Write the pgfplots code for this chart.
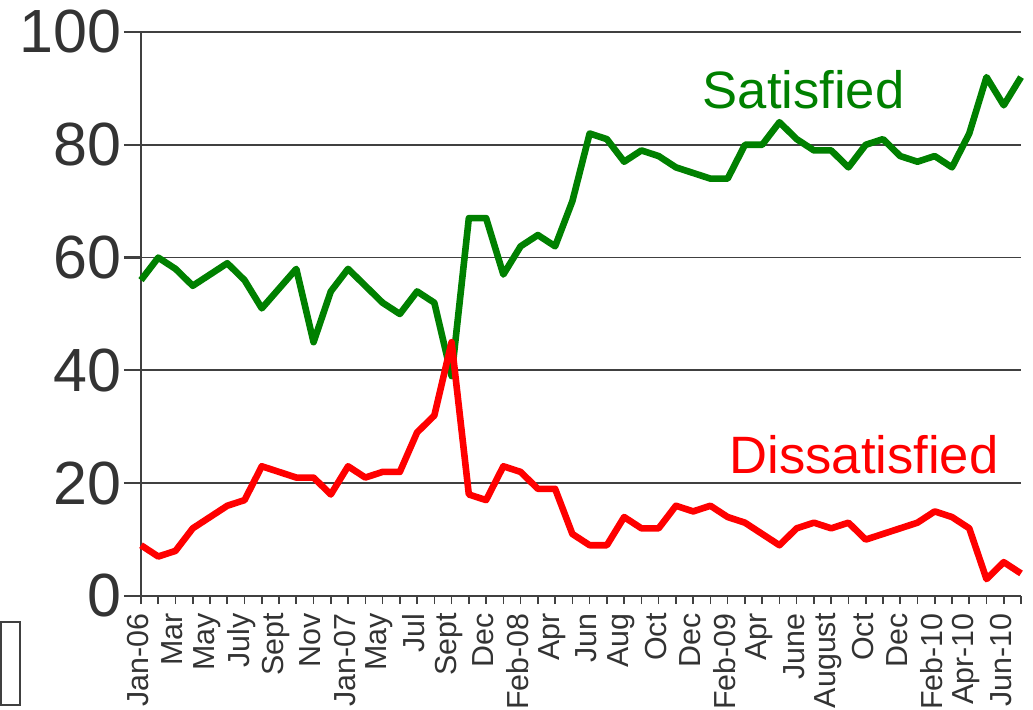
\documentclass[border=0pt]{standalone}
\usepackage{pgfplots}
\pgfplotsset{compat=1.18}
\usepackage{fontspec}
\setmainfont{Liberation Sans}
\definecolor{axgray}{HTML}{404040}
\definecolor{txtgray}{HTML}{333333}
\definecolor{satgreen}{HTML}{008000}
\definecolor{disred}{HTML}{FF0000}
\begin{document}
\begin{tikzpicture}
\begin{axis}[
  scale only axis,
  width=440pt, height=282pt,
  xmin=0, xmax=51, ymin=0, ymax=100,
  axis x line*=bottom, axis y line*=left,
  axis line style={axgray, line width=1.2pt},
  xtick={0,...,51},
  xticklabels={Jan-06,,Mar,,May,,July,,Sept,,Nov,,Jan-07,,May,,Jul,,Sept,,Dec,,Feb-08,,Apr,,Jun,,Aug,,Oct,,Dec,,Feb-09,,Apr,,June,,August,,Oct,,Dec,,Feb-10,,Apr-10,,Jun-10,},
  minor xtick={0,...,51},
  x tick label style={rotate=90, anchor=east, font=\fontsize{15.2}{17}\selectfont, text=txtgray, inner sep=0pt, yshift=1.5pt},
  ytick={0,20,...,100},
  y tick label style={font=\fontsize{30.5}{33}\selectfont, text=txtgray, inner sep=0pt, xshift=-1pt},
  /pgf/number format/assume math mode=true,
  tick align=outside,
  major tick length=8.5pt,
  minor tick length=4pt,
  x tick style={draw=none},
  minor x tick style={draw=axgray, line width=0.8pt},
  y tick style={axgray, line width=1.1pt},
  ymajorgrids,
  grid style={axgray, line width=0.9pt},
  clip=false,
]
\addplot[satgreen, line width=3.3pt, line join=round] coordinates {
(0,56)(1,60)(2,58)(3,55)(4,57)(5,59)(6,56)(7,51)(8,54.5)(9,58)
(10,45)(11,54)(12,58)(13,55)(14,52)(15,50)(16,54)(17,52)(18,39)(19,67)
(20,67)(21,57)(22,62)(23,64)(24,62)(25,70)(26,82)(27,81)(28,77)(29,79)
(30,78)(31,76)(32,75)(33,74)(34,74)(35,80)(36,80)(37,84)(38,81)(39,79)
(40,79)(41,76)(42,80)(43,81)(44,78)(45,77)(46,78)(47,76)(48,82)(49,92)
(50,87)(51,92)
};
\addplot[disred, line width=3.3pt, line join=round] coordinates {
(0,9)(1,7)(2,8)(3,12)(4,14)(5,16)(6,17)(7,23)(8,22)(9,21)
(10,21)(11,18)(12,23)(13,21)(14,22)(15,22)(16,29)(17,32)(18,45)(19,18)
(20,17)(21,23)(22,22)(23,19)(24,19)(25,11)(26,9)(27,9)(28,14)(29,12)
(30,12)(31,16)(32,15)(33,16)(34,14)(35,13)(36,11)(37,9)(38,12)(39,13)
(40,12)(41,13)(42,10)(43,11)(44,12)(45,13)(46,15)(47,14)(48,12)(49,3)
(50,6)(51,4)
};
\node[text=satgreen, font=\fontsize{26.3}{30}\selectfont, inner sep=0pt] at (axis cs:38.4,89.7) {Satisfied};
\node[text=disred, font=\fontsize{26.3}{30}\selectfont, inner sep=0pt] at (axis cs:41.9,25.0) {Dissatisfied};
\end{axis}
\draw[axgray, line width=0.8pt] ([shift={(-70pt,-13pt)}]current axis.south west) rectangle ([shift={(-60.5pt,-54.5pt)}]current axis.south west);
\pgfresetboundingbox
\path[use as bounding box] ([shift={(-70.5pt,-56.5pt)}]current axis.south west) rectangle ([shift={(6pt,16pt)}]current axis.north east);
\end{tikzpicture}
\end{document}
